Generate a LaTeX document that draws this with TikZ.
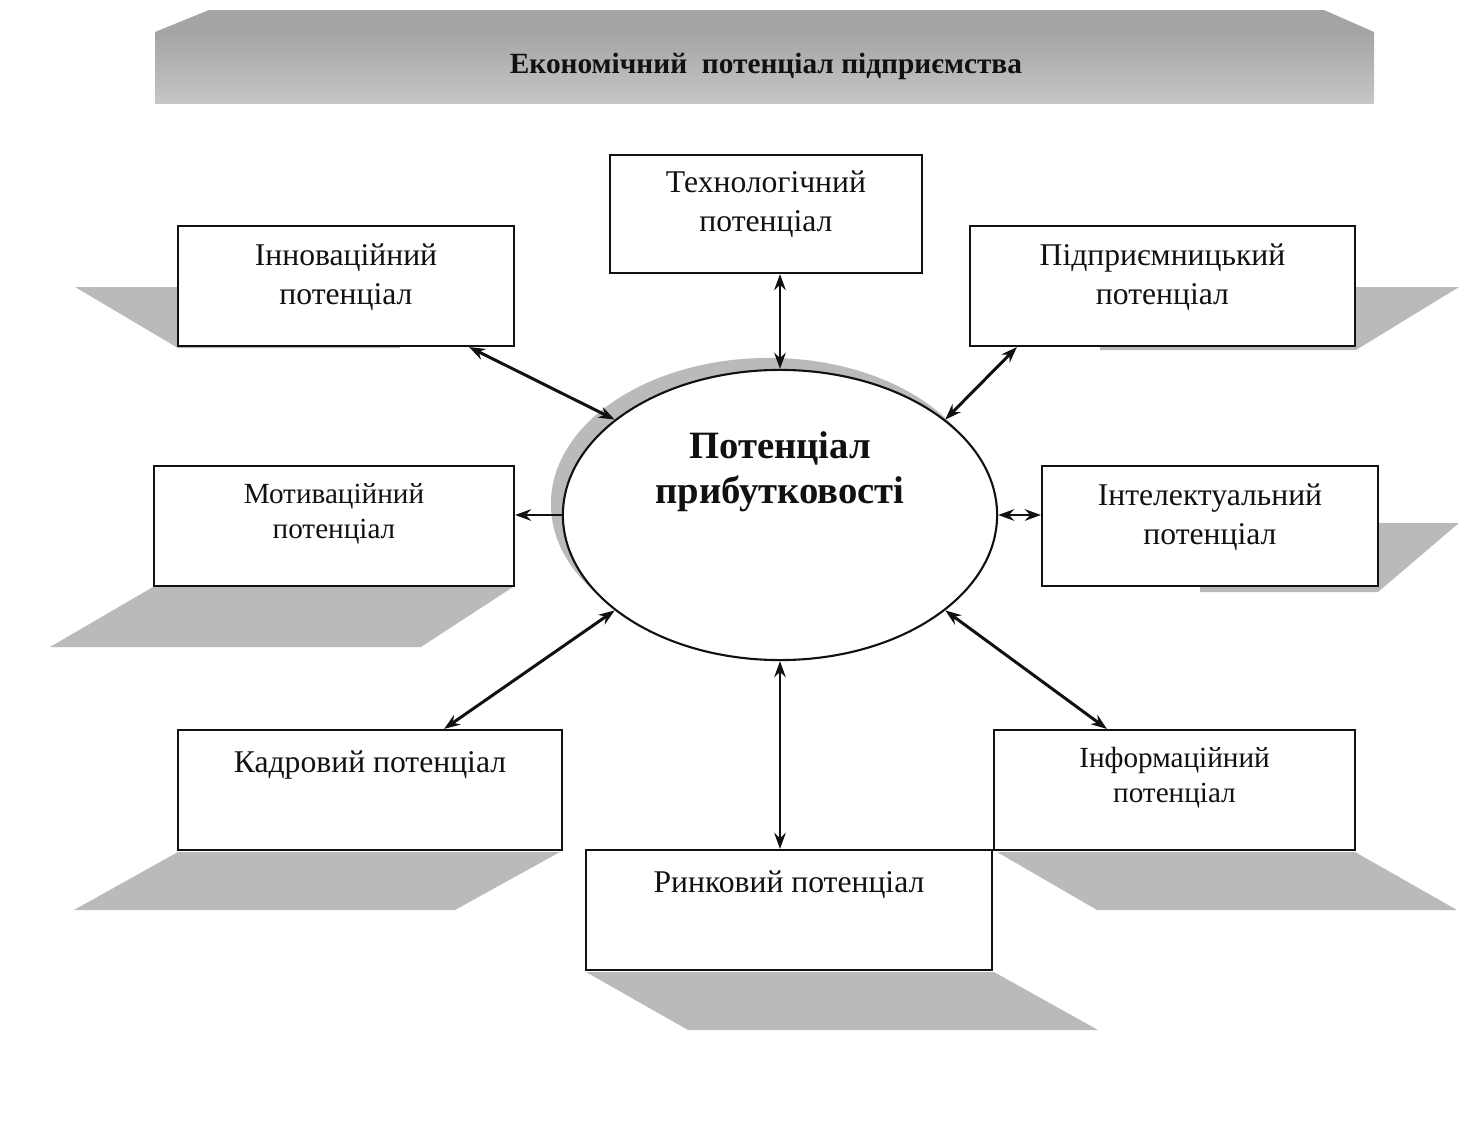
\documentclass[tikz,border=0pt]{standalone}
\usepackage{fontspec}
\setmainfont{Liberation Serif}
\usetikzlibrary{arrows.meta,calc,shapes.geometric}
\definecolor{ptInk}{HTML}{111111}
\definecolor{ptShade}{HTML}{BABABA}
\definecolor{ptBarTop}{HTML}{A4A4A4}
\definecolor{ptBarLow}{HTML}{C6C6C6}
\tikzset{
  pt diagram/.style={x=0.01cm, y=-0.01cm, text=ptInk},
  pt box/.style={rectangle, draw=ptInk, fill=white, line width=0.6pt, inner sep=0pt},
  pt text/.style={font=\fontsize{9}{11.2}\selectfont, align=center, anchor=north, inner sep=0pt},
  pt small/.style={pt text, font=\fontsize{8.3}{9.9}\selectfont},
  pt core/.style={ellipse, draw=ptInk, fill=white, line width=0.6pt,
    minimum width=4.34cm, minimum height=2.9cm, inner sep=0pt},
  pt link/.style={draw=ptInk, line width=0.85pt},
  pt arrow/.style={pt link, {Stealth[length=1.6mm,width=1.15mm]}-{Stealth[length=1.6mm,width=1.15mm]}},
  pt to/.style={pt link, -{Stealth[length=1.6mm,width=1.15mm]}},
  pt shade/.style={fill=ptShade, draw=none}
}
\begin{document}
\begin{tikzpicture}[pt diagram]
\useasboundingbox (0,0) rectangle (1459,1124);
% top bar
\fill[ptBarTop] (209,10) -- (1324,10) -- (1374,32) -- (155,32) -- cycle;
\shade[top color=ptBarTop, bottom color=ptBarLow] (155,32) rectangle (1374,103);
\node[font=\bfseries\fontsize{8.35}{10}\selectfont] (title) at (766,66)
  {Економічний\ \ потенціал підприємства};
% gray layers
\fill[pt shade] (75,287) -- (400,287) -- (400,348) -- (178,348) -- cycle;
\fill[pt shade] (1100,287) -- (1459,287) -- (1356,350) -- (1100,350) -- cycle;
\fill[pt shade] (153,587) -- (513,587) -- (421,647) -- (50,647) -- cycle;
\fill[pt shade] (1200,523) -- (1459,523) -- (1378,592) -- (1200,592) -- cycle;
\fill[pt shade] (178,852) -- (560,852) -- (455,910) -- (74,910) -- cycle;
\fill[pt shade] (997,852) -- (1355,852) -- (1457,910) -- (1097,910) -- cycle;
\fill[pt shade] (586,972) -- (994,972) -- (1098,1030) -- (688,1030) -- cycle;
\fill[pt shade] (769,504) ellipse [x radius=2.18cm, y radius=1.46cm];
% boxes
\foreach \nm/\cx/\cy/\w/\h in {tech/766/214/312/118, inn/346/286/336/120,
    pid/1162.5/286/385/120, mot/334/526/360/120, int/1210/526/336/120,
    kad/370/790/384/120, inf/1174.5/790/361/120, rin/789/910/406/120}
  \node[pt box, minimum width=\w*0.01cm, minimum height=\h*0.01cm] (\nm) at (\cx,\cy) {};
\node[pt core] (core) at (780,515) {};
% texts
\node[pt text] (tech-txt) at ($(tech.north)+(0,16)$) {Технологічний\\потенціал};
\node[pt text] (inn-txt) at ($(inn.north)+(0,18)$) {Інноваційний\\потенціал};
\node[pt text] (pid-txt) at ($(pid.north)+(0,18)$) {Підприємницький\\потенціал};
\node[pt small] (mot-txt) at ($(mot.north)+(0,18)$) {Мотиваційний\\потенціал};
\node[pt text] (int-txt) at ($(int.north)+(0,18)$) {Інтелектуальний\\потенціал};
\node[pt text] (kad-txt) at ($(kad.north)+(0,21)$) {Кадровий потенціал};
\node[pt small] (inf-txt) at ($(inf.north)+(0,18)$) {Інформаційний\\потенціал};
\node[pt text] (rin-txt) at ($(rin.north)+(0,21)$) {Ринковий потенціал};
\node[font=\bfseries\fontsize{11}{12.8}\selectfont, align=center] (core-txt) at (780,472)
  {Потенціал\\прибутковості};
% links
\draw[pt arrow] (tech.south -| core.north) -- (core.north);
\draw[pt arrow] ($(inn.south east)+(-46,0)$) -- (core.150);
\draw[pt arrow] ($(pid.south west)+(48,0)$) -- (core.30);
\draw[pt to] (core.west) -- (core.west -| mot.east);
\draw[pt arrow] (core.east) -- (core.east -| int.west);
\draw[pt arrow] ($(kad.north east)+(-119,0)$) -- (core.210);
\draw[pt arrow] ($(inf.north west)+(114,0)$) -- (core.330);
\draw[pt arrow] (core.south) -- (core.south |- rin.north);
\end{tikzpicture}
\end{document}
